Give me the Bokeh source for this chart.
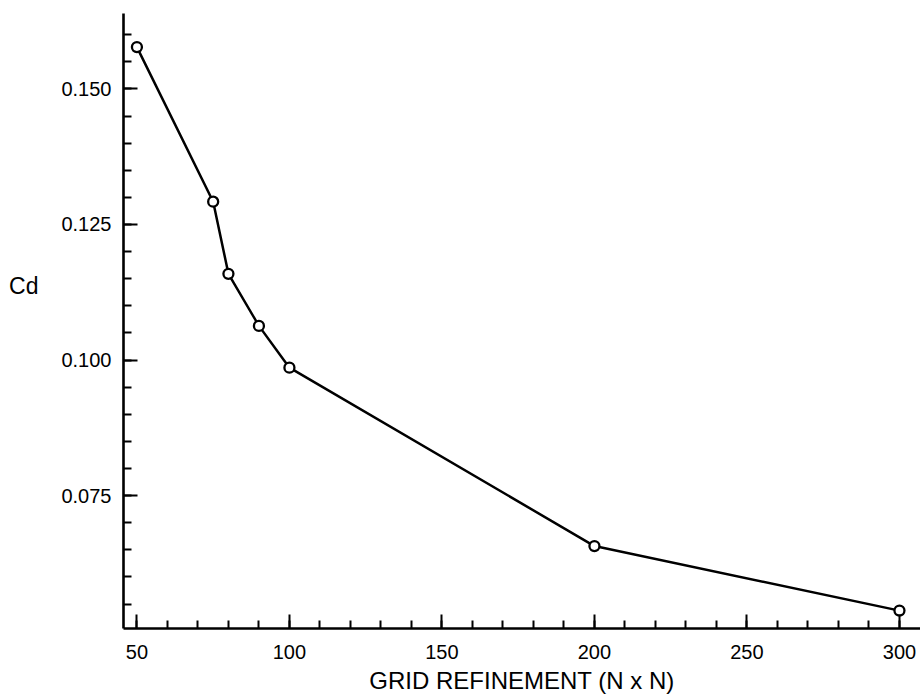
from bokeh.plotting import figure
from bokeh.models import Range1d, FixedTicker, LinearAxis
from bokeh.embed import file_html
from bokeh.resources import INLINE

# Data
grid_n = [50, 75, 80, 90, 100, 200, 300]
cd_values = [0.1577, 0.1292, 0.1159, 0.1063, 0.0986, 0.0657, 0.0538]

x_ticks = [50, 100, 150, 200, 250, 300]
x_minor = [v for v in range(50, 301, 10)]
y_ticks = [0.075, 0.100, 0.125, 0.150]
y_tick_labels = ["0.075", "0.100", "0.125", "0.150"]
y_minor = [round(0.055 + 0.005 * i, 3) for i in range(22)]
y_title = "Cd"
y_title_at = 0.1137
x_title = "GRID REFINEMENT (N x N)"

FONT = "Liberation Sans"

p = figure(frame_width=797, frame_height=615, output_backend="svg",
           toolbar_location=None,
           x_range=Range1d(45.6, 306.9), y_range=Range1d(0.0505, 0.1639),
           min_border_left=123, min_border_right=0, min_border_top=13,
           min_border_bottom=0)
p.outline_line_color = None
p.xgrid.grid_line_color = None
p.ygrid.grid_line_color = None
p.background_fill_color = "white"
p.border_fill_color = "white"

p.line(grid_n, cd_values, line_width=2.5, line_color="black")
p.scatter(grid_n, cd_values, marker="circle", size=10, fill_color="white",
          line_color="black", line_width=2.3)

for ax in (p.xaxis[0], p.yaxis[0]):
    ax.axis_line_width = 2.6
    ax.axis_line_color = "black"
    ax.major_tick_in = 14
    ax.major_tick_out = 0
    ax.minor_tick_in = 8
    ax.minor_tick_out = 0
    ax.major_tick_line_width = 2
    ax.minor_tick_line_width = 2
    ax.major_tick_line_color = "black"
    ax.minor_tick_line_color = "black"
    ax.major_label_text_font = FONT
    ax.major_label_text_font_size = "20px"
    ax.major_label_text_color = "black"

p.xaxis.ticker = FixedTicker(ticks=x_ticks, minor_ticks=x_minor)
p.xaxis.major_label_standoff = 16
p.xaxis.axis_label = x_title
p.xaxis.axis_label_text_font = FONT
p.xaxis.axis_label_text_font_style = "normal"
p.xaxis.axis_label_text_font_size = "24px"
p.xaxis.axis_label_text_color = "black"
p.xaxis.axis_label_standoff = 5

p.yaxis.ticker = FixedTicker(ticks=y_ticks, minor_ticks=y_minor)
p.yaxis.major_label_overrides = {t: s for t, s in zip(y_ticks, y_tick_labels)}
p.yaxis.major_label_standoff = 12

# horizontal "Cd" title placed beside the y axis at its own height
cd_axis = LinearAxis(ticker=FixedTicker(ticks=[y_title_at], minor_ticks=[]),
                     major_label_overrides={y_title_at: y_title},
                     axis_line_color=None, major_tick_line_color=None,
                     minor_tick_line_color=None,
                     major_label_text_font=FONT,
                     major_label_text_font_size="23px",
                     major_label_text_color="black",
                     major_label_standoff=14)
p.add_layout(cd_axis, "left")

open("out.html", "w").write(file_html(p, INLINE))
